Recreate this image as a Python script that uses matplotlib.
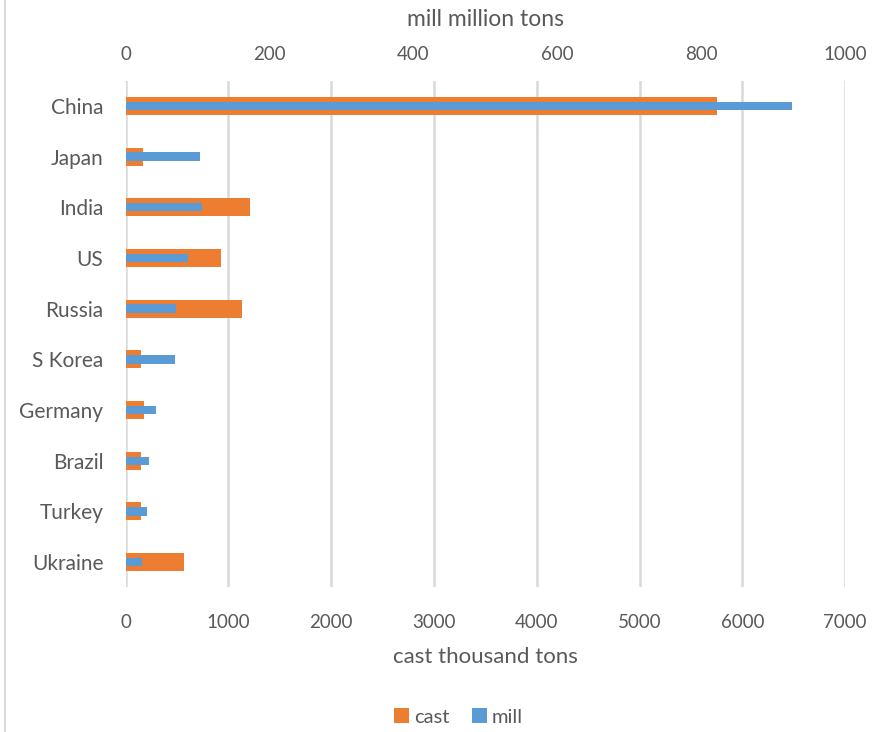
import matplotlib
matplotlib.use("Agg")
import matplotlib.pyplot as plt
from matplotlib.lines import Line2D
from matplotlib.patches import Patch
import numpy as np

plt.rcParams['font.family'] = ['Lato', 'DejaVu Sans']

countries = ["China", "Japan", "India", "US", "Russia", "S Korea", "Germany", "Brazil", "Turkey", "Ukraine"]
cast = [5750, 172, 1209, 930, 1128, 152, 175, 152, 152, 570]
mill = [926, 103, 106, 86, 70, 68, 42, 32, 30, 22]
cast_ticks = [0, 1000, 2000, 3000, 4000, 5000, 6000, 7000]
mill_ticks = [0, 200, 400, 600, 800, 1000]

ORANGE = "#ED7D31"
BLUE = "#5B9BD5"
GRID = "#D9D9D9"
TXT = "#595959"

fig = plt.figure(figsize=(8.73, 7.32), dpi=100)
ax = fig.add_axes([0.144, 0.1975, 0.968 - 0.144, 0.8899 - 0.1975])
ax2 = ax.twiny()

y = np.arange(len(countries))
ax.barh(y, cast, height=0.355, color=ORANGE, zorder=2)
ax2.barh(y, mill, height=0.165, color=BLUE, zorder=3)

ax.set_xlim(0, 7000)
ax2.set_xlim(0, 1000)
ax.set_ylim(len(countries) - 0.5, -0.5)

ax.set_xticks(cast_ticks)
ax.set_xticklabels([str(t) for t in cast_ticks])
ax2.set_xticks(mill_ticks)
ax2.set_xticklabels([str(t) for t in mill_ticks])
ax.set_yticks(y)
ax.set_yticklabels(countries)

ax.grid(axis='x', color=GRID, linewidth=1.8, zorder=0)
ax.set_axisbelow(True)
for a in (ax, ax2):
    for s in a.spines.values():
        s.set_visible(False)
    a.tick_params(length=0, colors=TXT, labelsize=13.5)
ax.tick_params(axis='x', pad=19)
ax2.tick_params(axis='x', pad=13)
ax.tick_params(axis='y', pad=16, labelsize=15)

ax.set_xlabel("cast thousand tons", fontsize=16, color=TXT, labelpad=12)
ax2.set_xlabel("mill million tons", fontsize=16.5, color=TXT, labelpad=14)

handles = [Patch(facecolor=ORANGE), Patch(facecolor=BLUE)]
fig.legend(handles, ["cast", "mill"], loc='center', bbox_to_anchor=(0.525, 1 - 717 / 732),
           ncol=2, frameon=False, fontsize=14.5, handlelength=0.75, handleheight=0.75,
           handletextpad=0.25, columnspacing=1.1, labelcolor=TXT)

fig.add_artist(Line2D([5 / 873, 5 / 873], [0, 1], transform=fig.transFigure, color=GRID, linewidth=1.5))

fig.savefig("out.png", dpi=100)
